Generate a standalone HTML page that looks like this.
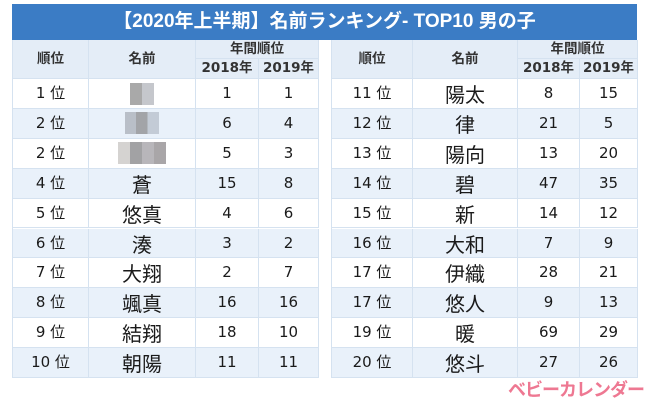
<!DOCTYPE html>
<html><head><meta charset="utf-8"><style>
body{margin:0;width:650px;height:400px;background:#fff;position:relative;overflow:hidden;font-family:"DejaVu Sans","Noto Sans CJK JP",sans-serif;color:#1a1a1a}
.title{position:absolute;left:12px;top:4px;width:625px;height:36px;background:#3b7cc5;color:#fff;font-weight:bold;font-size:19px;line-height:36px;text-align:center;font-family:"Liberation Sans","Noto Sans CJK JP",sans-serif;}
.t{position:absolute;top:40px;border-left:1px solid #d5e2f0;}
.hd{position:absolute;top:0;height:39px;background:#e4edf7;border-bottom:1px solid #d5e2f0;box-sizing:border-box;width:100%;font-weight:bold;font-size:13.5px;color:#333}
.hd div{position:absolute;box-sizing:border-box;border-right:1px solid #d5e2f0;text-align:center}
.r{position:absolute;left:0;height:29.9px;width:100%;display:flex;box-sizing:border-box;border-bottom:1px solid #d5e2f0}
.r div{box-sizing:border-box;border-right:1px solid #d5e2f0;text-align:center;line-height:29px;font-size:15px}
.r div.n{font-size:20px;font-family:"Noto Sans CJK JP",sans-serif}
.a{background:#fff}.b{background:#e9f1fa}
.bl{display:inline-block;height:22px;vertical-align:middle}
</style></head><body>
<div class="title">【2020年上半期】名前ランキング- TOP10 男の子</div>

<div class="t" style="left:12px;width:306px;height:338px">
<div class="hd">
<div style="left:0;width:76px;height:39px;line-height:39px">順位</div>
<div style="left:76px;width:107px;height:39px;line-height:39px">名前</div>
<div style="left:183px;width:123px;height:19px;line-height:19px;border-bottom:1px solid #d5e2f0">年間順位</div>
<div style="left:183px;top:19px;width:63px;height:19px;line-height:19px">2018年</div>
<div style="left:246px;top:19px;width:60px;height:19px;line-height:19px">2019年</div>
</div>
<div class="r a" style="top:39px"><div style="width:76px">1 位</div><div style="width:107px"><span class="bl" style="width:24px;background:linear-gradient(90deg,#a9a9a9 50%,#c5c7cc 50%)"></span></div><div style="width:63px">1</div><div style="width:60px">1</div></div>
<div class="r b" style="top:68.9px"><div style="width:76px">2 位</div><div style="width:107px"><span class="bl" style="width:34px;background:linear-gradient(90deg,#b9bfc8 33%,#a2a4a8 33%,#a2a4a8 66%,#c3cbd6 66%)"></span></div><div style="width:63px">6</div><div style="width:60px">4</div></div>
<div class="r a" style="top:98.8px"><div style="width:76px">2 位</div><div style="width:107px"><span class="bl" style="width:48px;background:linear-gradient(90deg,#d5d3d1 25%,#a2a2a4 25%,#a2a2a4 50%,#b8b6ba 50%,#b8b6ba 75%,#a9a6a8 75%)"></span></div><div style="width:63px">5</div><div style="width:60px">3</div></div>
<div class="r b" style="top:128.7px"><div style="width:76px">4 位</div><div class="n" style="width:107px">蒼</div><div style="width:63px">15</div><div style="width:60px">8</div></div>
<div class="r a" style="top:158.6px"><div style="width:76px">5 位</div><div class="n" style="width:107px">悠真</div><div style="width:63px">4</div><div style="width:60px">6</div></div>
<div class="r b" style="top:188.5px"><div style="width:76px">6 位</div><div class="n" style="width:107px">湊</div><div style="width:63px">3</div><div style="width:60px">2</div></div>
<div class="r a" style="top:218.4px"><div style="width:76px">7 位</div><div class="n" style="width:107px">大翔</div><div style="width:63px">2</div><div style="width:60px">7</div></div>
<div class="r b" style="top:248.3px"><div style="width:76px">8 位</div><div class="n" style="width:107px">颯真</div><div style="width:63px">16</div><div style="width:60px">16</div></div>
<div class="r a" style="top:278.2px"><div style="width:76px">9 位</div><div class="n" style="width:107px">結翔</div><div style="width:63px">18</div><div style="width:60px">10</div></div>
<div class="r b" style="top:308.1px"><div style="width:76px">10 位</div><div class="n" style="width:107px">朝陽</div><div style="width:63px">11</div><div style="width:60px">11</div></div>
</div>

<div class="t" style="left:331px;width:306px;height:338px">
<div class="hd">
<div style="left:0;width:81px;height:39px;line-height:39px">順位</div>
<div style="left:81px;width:105px;height:39px;line-height:39px">名前</div>
<div style="left:186px;width:120px;height:19px;line-height:19px;border-bottom:1px solid #d5e2f0">年間順位</div>
<div style="left:186px;top:19px;width:62px;height:19px;line-height:19px">2018年</div>
<div style="left:248px;top:19px;width:58px;height:19px;line-height:19px">2019年</div>
</div>
<div class="r a" style="top:39px"><div style="width:81px">11 位</div><div class="n" style="width:105px">陽太</div><div style="width:62px">8</div><div style="width:58px">15</div></div>
<div class="r b" style="top:68.9px"><div style="width:81px">12 位</div><div class="n" style="width:105px">律</div><div style="width:62px">21</div><div style="width:58px">5</div></div>
<div class="r a" style="top:98.8px"><div style="width:81px">13 位</div><div class="n" style="width:105px">陽向</div><div style="width:62px">13</div><div style="width:58px">20</div></div>
<div class="r b" style="top:128.7px"><div style="width:81px">14 位</div><div class="n" style="width:105px">碧</div><div style="width:62px">47</div><div style="width:58px">35</div></div>
<div class="r a" style="top:158.6px"><div style="width:81px">15 位</div><div class="n" style="width:105px">新</div><div style="width:62px">14</div><div style="width:58px">12</div></div>
<div class="r b" style="top:188.5px"><div style="width:81px">16 位</div><div class="n" style="width:105px">大和</div><div style="width:62px">7</div><div style="width:58px">9</div></div>
<div class="r a" style="top:218.4px"><div style="width:81px">17 位</div><div class="n" style="width:105px">伊織</div><div style="width:62px">28</div><div style="width:58px">21</div></div>
<div class="r b" style="top:248.3px"><div style="width:81px">17 位</div><div class="n" style="width:105px">悠人</div><div style="width:62px">9</div><div style="width:58px">13</div></div>
<div class="r a" style="top:278.2px"><div style="width:81px">19 位</div><div class="n" style="width:105px">暖</div><div style="width:62px">69</div><div style="width:58px">29</div></div>
<div class="r b" style="top:308.1px"><div style="width:81px">20 位</div><div class="n" style="width:105px">悠斗</div><div style="width:62px">27</div><div style="width:58px">26</div></div>
</div>

<div style="position:absolute;left:508px;top:379px;color:#ee7892;font-weight:bold;font-size:18px;letter-spacing:-1px;line-height:22px;font-family:'Liberation Sans','Noto Sans CJK JP',sans-serif">ベビーカレンダー</div>
</body></html>
